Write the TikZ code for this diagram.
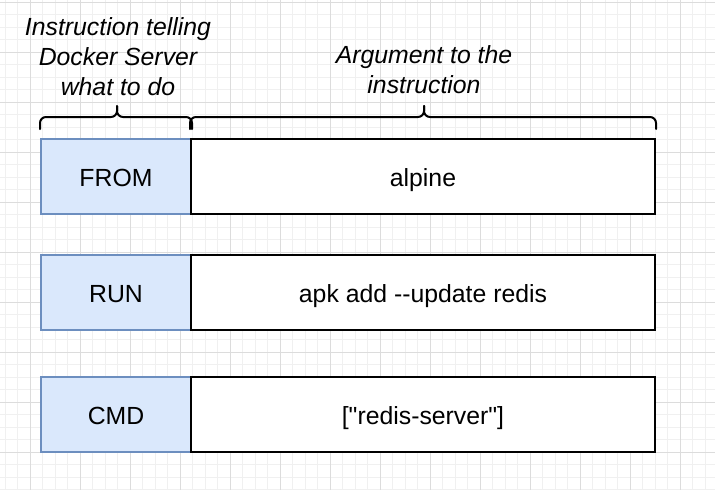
\documentclass[tikz,border=0pt]{standalone}
\usepackage{fontspec}
\setmainfont{Liberation Sans}[Ligatures=TeXOff]
\usetikzlibrary{calc}
\definecolor{gridminor}{HTML}{F0F0F0}
\definecolor{gridmajor}{HTML}{DCDCDC}
\definecolor{bluefill}{HTML}{DAE8FC}
\definecolor{bluestroke}{HTML}{6C8EBF}
\tikzset{
  keybox/.style={draw=bluestroke, fill=bluefill, line width=2pt, minimum width=150pt, minimum height=75pt, inner sep=0pt, text height=20.8pt, text depth=0pt, font=\fontsize{24.8}{29.8}\selectfont},
  argbox/.style={draw=black, fill=white, line width=2pt, minimum width=464pt, minimum height=75pt, inner sep=0pt, text height=20.8pt, text depth=0pt, font=\fontsize{24.8}{29.8}\selectfont},
  note/.style={align=center, inner sep=0pt, font=\fontsize{24.8}{30}\selectfont\itshape},
  bracepath/.style={draw=black, line width=2pt, rounded corners=6pt, line cap=round},
}
\begin{document}
\begin{tikzpicture}[x=1pt,y=-1pt]
\useasboundingbox (0,0) rectangle (715,490);
\fill[white] (0,0) rectangle (715,490);
% minor grid
\foreach \i in {0,...,57} {
  \draw[gridminor, line width=1pt] ({5+12.5*\i},0) -- ({5+12.5*\i},490);
}
\foreach \j in {0,...,39} {
  \draw[gridminor, line width=1pt] (0,{2+12.5*\j}) -- (715,{2+12.5*\j});
}
% major grid
\foreach \i in {0,...,14} {
  \draw[gridmajor, line width=1pt] ({30+50*\i},0) -- ({30+50*\i},490);
}
\foreach \j in {0,...,9} {
  \draw[gridmajor, line width=1pt] (0,{2+50*\j}) -- (715,{2+50*\j});
}
% rows
\node[keybox] (from) at (116,176.5) {FROM};
\node[argbox] (alpine) at (423,176.5) {alpine};
\node[keybox] (run) at (116,292.5) {RUN};
\node[argbox] (apk) at (423,292.5) {apk add --update redis};
\node[keybox] (cmd) at (116,414.5) {CMD};
\node[argbox] (redis) at (423,414.5) {["redis-server"]};
% notes
\node[note] (instr) at (118,57) {Instruction telling\\Docker Server\\what to do};
\node[note] (arg) at (424,70) {Argument to the\\instruction};
% left brace
\coordinate (lt) at ($(from.north)+(1,-32)$);
\draw[bracepath] ($(from.north west)+(0,-9)$) |- ($(lt)+(0,11)$) -- (lt);
\draw[bracepath] ($(from.north east)+(0,-9)$) |- ($(lt)+(0,11)$) -- (lt);
% right brace
\coordinate (rt) at ($(alpine.north)+(1,-32)$);
\draw[bracepath] ($(alpine.north west)+(0,-9)$) |- ($(rt)+(0,11)$) -- (rt);
\draw[bracepath] ($(alpine.north east)+(0,-9)$) |- ($(rt)+(0,11)$) -- (rt);
\end{tikzpicture}
\end{document}
